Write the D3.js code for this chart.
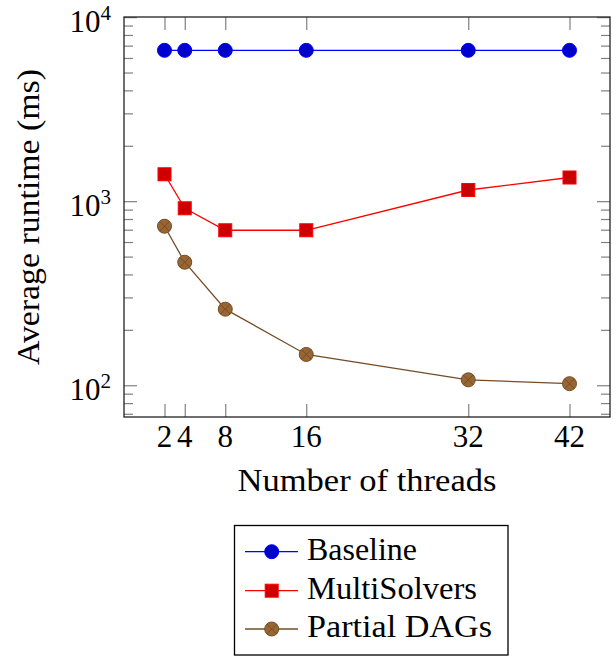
<!DOCTYPE html>
<html><head><meta charset="utf-8">
<script src="https://cdn.jsdelivr.net/npm/d3@7"></script>
</head><body style="margin:0">
<script>
const threads = [2, 4, 8, 16, 32, 42];
const xTickLabels = ["2", "4", "8", "16", "32", "42"];
const baseline = [6600, 6600, 6600, 6600, 6600, 6600];
const multiSolvers = [1400, 915, 695, 695, 1150, 1345];
const partialDAGs = [731, 466, 259, 147, 107, 102];
const yMajorTicks = [100, 1000, 10000];
const yTickExponents = ["2", "3", "4"];
const seriesNames = ["Baseline", "MultiSolvers", "Partial DAGs"];

const W = 616, H = 656;
const FONT = '"Liberation Serif"';
const svg = d3.select("body").append("svg").attr("width", W).attr("height", H).style("display", "block");
const L = 124, R = 610, T = 17, B = 417;

const all = baseline.concat(multiSolvers, partialDAGs);
const lo = Math.log10(d3.min(all)), hi = Math.log10(d3.max(all));
const pad = 0.1 * (hi - lo);
const x = d3.scaleLinear().domain([-2, 46]).range([L, R]);
const y = d3.scaleLog().domain([Math.pow(10, lo - pad), Math.pow(10, hi + pad)]).range([B, T]);

const minors = [];
for (let d = 1; d <= 4; d++) for (let k = 2; k <= 9; k++) {
  const v = k * Math.pow(10, d);
  if (v >= y.domain()[0] && v <= y.domain()[1]) minors.push(v);
}
const tickColor = "#808080";
function styleAxis(g) { g.select(".domain").remove(); g.selectAll(".tick line").attr("stroke", tickColor).attr("stroke-width", 1.2); g.selectAll(".tick text").remove(); g.attr("font-family", null).attr("font-size", null); }
svg.append("g").attr("transform", `translate(${L},0)`).call(d3.axisLeft(y).tickValues(minors).tickSize(-9)).call(styleAxis);
svg.append("g").attr("transform", `translate(${R},0)`).call(d3.axisRight(y).tickValues(minors).tickSize(-9)).call(styleAxis);
svg.append("g").attr("transform", `translate(${L},0)`).call(d3.axisLeft(y).tickValues(yMajorTicks).tickSize(-13)).call(styleAxis);
svg.append("g").attr("transform", `translate(${R},0)`).call(d3.axisRight(y).tickValues(yMajorTicks).tickSize(-13)).call(styleAxis);
svg.append("g").attr("transform", `translate(0,${B})`).call(d3.axisBottom(x).tickValues(threads).tickSize(-13)).call(styleAxis);
svg.append("g").attr("transform", `translate(0,${T})`).call(d3.axisTop(x).tickValues(threads).tickSize(-13)).call(styleAxis);

svg.append("rect").attr("x", L).attr("y", T).attr("width", R - L).attr("height", B - T)
  .attr("fill", "none").attr("stroke", "#222").attr("stroke-width", 1.3);

function txt(g) { return g.append("text").style("font-family", FONT).attr("font-size", 31); }

yMajorTicks.forEach((v, i) => {
  const t = txt(svg).attr("x", 111).attr("y", y(v) + 15).attr("text-anchor", "end");
  t.append("tspan").text("10");
  t.append("tspan").attr("font-size", 21).attr("dy", -12).text(yTickExponents[i]);
});
threads.forEach((v, i) => {
  txt(svg).attr("x", x(v)).attr("y", 447).attr("text-anchor", "middle").text(xTickLabels[i]);
});
txt(svg).attr("x", (L + R) / 2).attr("y", 491).attr("text-anchor", "middle")
  .attr("textLength", 259).attr("lengthAdjust", "spacingAndGlyphs").text("Number of threads");
txt(svg).attr("transform", `translate(39,${(T + B) / 2}) rotate(-90)`).attr("text-anchor", "middle")
  .attr("textLength", 296).attr("lengthAdjust", "spacingAndGlyphs").text("Average runtime (ms)");

const styles = [
  { line: "#0000ff", fill: "#0000cc", stroke: "#0000ff", mark: "circle" },
  { line: "#ff0000", fill: "#cc0000", stroke: "#ff0000", mark: "square" },
  { line: "#734d26", fill: "#996633", stroke: "#734d26", mark: "otimes" }
];
const data = [baseline, multiSolvers, partialDAGs];

function drawMark(g, cx, cy, s) {
  if (s.mark === "circle") {
    g.append("circle").attr("cx", cx).attr("cy", cy).attr("r", 7).attr("fill", s.fill).attr("stroke", s.stroke).attr("stroke-width", 1);
  } else if (s.mark === "square") {
    g.append("rect").attr("x", cx - 6.5).attr("y", cy - 6.5).attr("width", 13).attr("height", 13).attr("fill", s.fill).attr("stroke", s.stroke).attr("stroke-width", 1);
  } else {
    g.append("circle").attr("cx", cx).attr("cy", cy).attr("r", 7).attr("fill", s.fill).attr("stroke", s.stroke).attr("stroke-width", 1);
    const d = 7 * Math.SQRT1_2;
    g.append("path").attr("d", `M${cx - d},${cy - d}L${cx + d},${cy + d}M${cx - d},${cy + d}L${cx + d},${cy - d}`)
      .attr("stroke", s.stroke).attr("stroke-width", 1);
  }
}

const line = d3.line().x((d, i) => x(threads[i])).y(d => y(d));
data.forEach((vals, si) => {
  const s = styles[si];
  const g = svg.append("g");
  g.append("path").datum(vals).attr("d", line).attr("fill", "none").attr("stroke", s.line).attr("stroke-width", 1.3);
  vals.forEach((v, i) => drawMark(g, x(threads[i]), y(v), s));
});

const lg = svg.append("g");
lg.append("rect").attr("x", 234.5).attr("y", 525.5).attr("width", 273.5).attr("height", 129.5).attr("fill", "#fff").attr("stroke", "#000").attr("stroke-width", 1.3);
const rowsY = [551.7, 590.7, 629];
const legendWidths = [110, 170, 185];
seriesNames.forEach((n, i) => {
  const s = styles[i];
  lg.append("line").attr("x1", 245).attr("x2", 298).attr("y1", rowsY[i]).attr("y2", rowsY[i]).attr("stroke", s.line).attr("stroke-width", 1.3);
  drawMark(lg, 271.7, rowsY[i], s);
  txt(lg).attr("x", 307).attr("y", rowsY[i] + 8.3)
    .attr("textLength", legendWidths[i]).attr("lengthAdjust", "spacingAndGlyphs").text(n);
});
</script>
</body></html>
